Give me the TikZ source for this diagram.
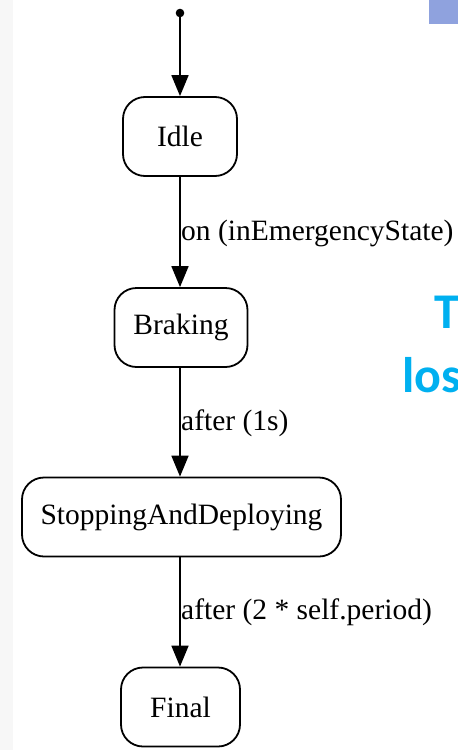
\documentclass[tikz,border=0pt]{standalone}
\usepackage{fontspec}
\setmainfont{Liberation Serif}
\newfontfamily\slidefont{Carlito}
\usetikzlibrary{arrows.meta}
\definecolor{stripgray}{RGB}{247,247,247}
\definecolor{tabblue}{RGB}{143,162,222}
\definecolor{titleblue}{RGB}{0,176,240}
\begin{document}
\begin{tikzpicture}[x=1pt,y=-1pt,
  state/.style={draw=black,line width=1.8pt,rounded corners=22pt,
    minimum height=79pt,inner sep=0pt,align=center,
    font=\fontsize{29.5}{30}\selectfont},
  trans/.style={line width=1.8pt,-{Triangle[length=21pt,width=17pt]}},
  guard/.style={anchor=base west,inner sep=0pt,
    font=\fontsize{29.5}{30}\selectfont},
  slide/.style={anchor=base west,inner sep=0pt,text=titleblue,
    font=\slidefont\bfseries\fontsize{50}{50}\selectfont}]
  \useasboundingbox (0,0) rectangle (458,750);
  \clip (0,0) rectangle (458,750);
  \fill[white] (0,0) rectangle (458,750);
  \fill[stripgray] (0,0) rectangle (13,750);
  \fill[tabblue] (429,0) rectangle (458,24);
  \node[slide] (titleA) at (434,328) {T};
  \node[slide] (titleB) at (402,392) {los};

  % states
  \node[state,minimum width=114pt] (idle) at (180,136.5) {Idle};
  \node[state,minimum width=133pt] (braking) at (181,327.5) {Braking};
  \node[state,minimum width=319pt] (stop) at (181.5,517) {StoppingAndDeploying};
  \node[state,minimum width=119pt] (final) at (180.5,707) {Final};

  % initial pseudo-state
  \fill (180,13) circle (4.3pt);
  \coordinate (init) at (180,13);

  % transitions
  \draw[trans] (init) -- (idle.north);
  \draw[trans] (idle.south) -- (braking.north -| idle.south);
  \draw[trans] (braking.south -| idle.south) -- (stop.north -| idle.south);
  \draw[trans] (stop.south -| idle.south) -- (final.north -| idle.south);

  % guards
  \node[guard] (g1) at (181,240) {on (inEmergencyState)};
  \node[guard] (g2) at (181,430) {after (1s)};
  \node[guard] (g3) at (181,619) {after (2 * self.period)};
\end{tikzpicture}
\end{document}
